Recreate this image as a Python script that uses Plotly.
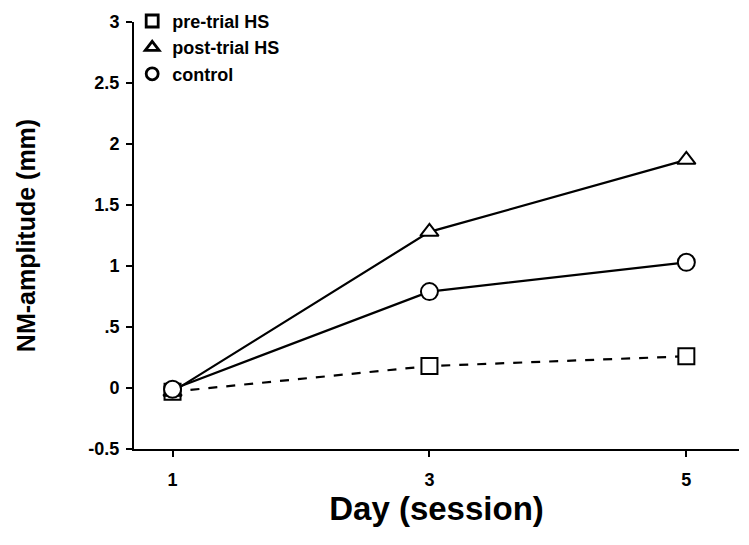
import plotly.graph_objects as go

days = [1, 3, 5]
pre_trial = [-0.03, 0.18, 0.26]
post_trial = [-0.03, 1.28, 1.87]
control = [-0.01, 0.79, 1.03]

ytick_vals = [-0.5, 0, 0.5, 1, 1.5, 2, 2.5, 3]
ytick_text = ["-0.5", "0", ".5", "1", "1.5", "2", "2.5", "3"]
xtick_vals = [1, 3, 5]
xtick_text = ["1", "3", "5"]

FONT = "Liberation Sans"
fig = go.Figure()

series = [
    ("pre-trial HS", pre_trial, "square", "dash", 16),
    ("post-trial HS", post_trial, "triangle-up", "solid", 16),
    ("control", control, "circle", "solid", 17),
]
for name, vals, sym, dash, sz in series:
    fig.add_trace(go.Scatter(
        x=days, y=vals, mode="lines", showlegend=False,
        line=dict(color="black", width=2.2, dash=dash),
    ))
for name, vals, sym, dash, sz in series:
    # legend-only entry (marker without line)
    fig.add_trace(go.Scatter(
        x=[None], y=[None], mode="markers", name=name,
        marker=dict(symbol=sym, size=12, color="white",
                    line=dict(color="black", width=2.8)),
    ))
for name, vals, sym, dash, sz in series:
    fig.add_trace(go.Scatter(
        x=days, y=vals, mode="markers", showlegend=False,
        marker=dict(symbol=sym, size=sz, color="white",
                    line=dict(color="black", width=2)),
    ))

fig.update_layout(
    width=749, height=545,
    margin=dict(l=134, r=10, t=22, b=96, autoexpand=False),
    plot_bgcolor="white", paper_bgcolor="white",
    font=dict(family=FONT, color="black", size=18, weight="bold"),
    legend=dict(x=-0.003, y=1.045, xanchor="left", yanchor="top",
                font=dict(size=18, family=FONT, weight="bold"),
                itemwidth=30, bgcolor="rgba(0,0,0,0)",
                tracegroupgap=0),
    xaxis=dict(range=[0.70, 5.41], tickvals=xtick_vals, ticktext=xtick_text,
               showgrid=False, zeroline=False, showline=True,
               linecolor="black", linewidth=2, ticks="outside",
               ticklen=6, tickwidth=1.5, tickcolor="black",
               ticklabelstandoff=7,
               tickfont=dict(size=18, family=FONT, weight="bold"),
               title=dict(text="Day (session)", standoff=0,
                          font=dict(size=33, family=FONT, weight="bold"))),
    yaxis=dict(range=[-0.5, 3], tickvals=ytick_vals, ticktext=ytick_text,
               showgrid=False, zeroline=False, showline=True,
               linecolor="black", linewidth=2, ticks="outside",
               ticklen=6, tickwidth=1.5, tickcolor="black",
               ticklabelstandoff=3,
               tickfont=dict(size=18, family=FONT, weight="bold"),
               title=dict(text="NM-amplitude (mm)", standoff=46,
                          font=dict(size=25, family=FONT, weight="bold"))),
)

fig.write_html("out.html")
